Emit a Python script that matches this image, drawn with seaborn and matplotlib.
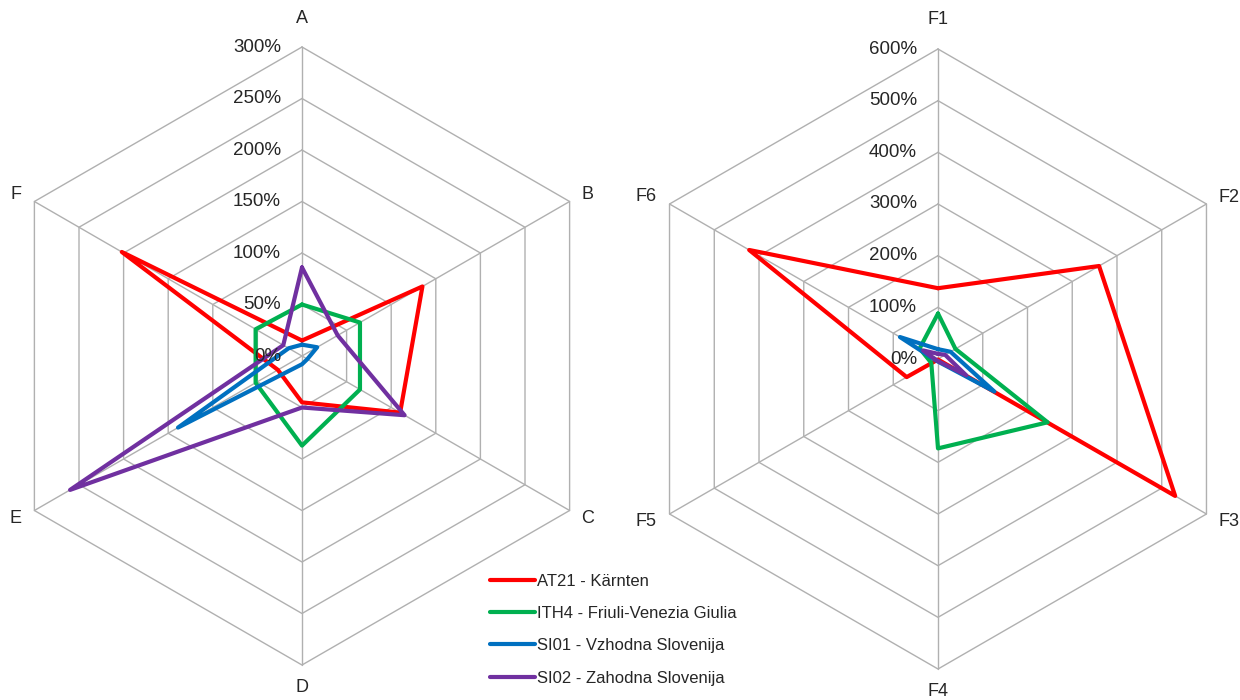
import numpy as np
import pandas as pd
import matplotlib
matplotlib.use("Agg")
import matplotlib.pyplot as plt
import seaborn as sns

sns.set_style("white")
plt.rcParams['font.family'] = ['Liberation Sans', 'DejaVu Sans']

# ---------------- data ----------------
series = ["AT21 - Kärnten", "ITH4 - Friuli-Venezia Giulia",
          "SI01 - Vzhodna Slovenija", "SI02 - Zahodna Slovenija"]
colors = ["#FF0000", "#00B050", "#0070C0", "#7030A0"]

cats_left = ["A", "B", "C", "D", "E", "F"]
at21_left = [15, 135, 110, 45, 27, 202]
ith4_left = [50, 65, 65, 87, 52, 52]
si01_left = [11, 17, 6, 8, 139, 15]
si02_left = [86, 40, 115, 50, 260, 21]
ticks_left = [0, 50, 100, 150, 200, 250, 300]

cats_right = ["F1", "F2", "F3", "F4", "F5", "F6"]
at21_right = [137, 360, 530, 1, 70, 422]
ith4_right = [88, 39, 245, 173, 15, 41]
si01_right = [19, 28, 126, 5, 5, 85]
si02_right = [10, 16, 63, 4, 4, 33]
ticks_right = [0, 100, 200, 300, 400, 500, 600]

GRID = "#B0B0B0"
TXT = "#262626"


def build_df(cats, values_list):
    n = len(cats)
    ang = np.deg2rad(90 - 360 / n * np.arange(n))
    rows = []
    for name, vals in zip(series, values_list):
        v = np.array(vals, dtype=float)
        idx = list(range(n)) + [0]
        for k, i in enumerate(idx):
            rows.append({"series": name, "order": k,
                         "x": v[i] * np.cos(ang[i]), "y": v[i] * np.sin(ang[i])})
    return pd.DataFrame(rows), ang


def draw_radar(ax, cats, values_list, ticks, offsets):
    df, ang = build_df(cats, values_list)
    rmax = ticks[-1]
    # hexagonal grid
    for t in ticks[1:]:
        gx = np.append(t * np.cos(ang), t * np.cos(ang[0]))
        gy = np.append(t * np.sin(ang), t * np.sin(ang[0]))
        ax.plot(gx, gy, color=GRID, lw=1.0, zorder=1)
    for a in ang:
        ax.plot([0, rmax * np.cos(a)], [0, rmax * np.sin(a)], color=GRID, lw=1.0, zorder=1)
    # data lines
    sns.lineplot(data=df, x="x", y="y", hue="series", hue_order=series,
                 palette=colors, sort=False, estimator=None, lw=3.0,
                 ax=ax, legend=True, zorder=3)
    for ln in ax.get_lines():
        ln.set_solid_joinstyle("round")
        ln.set_solid_capstyle("round")
    # radial tick labels
    for t in ticks:
        ax.annotate(f"{t}%", xy=(0, t), xytext=(-21, 0), textcoords="offset pixels",
                    ha="right", va="center", fontsize=13.5, color=TXT, zorder=5)
    # category labels
    for c, a, (dx, dy, ha) in zip(cats, ang, offsets):
        ax.annotate(c, xy=(rmax * np.cos(a), rmax * np.sin(a)), xytext=(dx, dy),
                    textcoords="offset pixels", ha=ha, va="center",
                    fontsize=13, color=TXT, zorder=5)
    ax.set_axis_off()


fig = plt.figure(figsize=(12.4, 7), dpi=100)
ax1 = fig.add_axes([0, 0, 604 / 1240, 1])
ax2 = fig.add_axes([636 / 1240, 0, 604 / 1240, 1])

offs = [(0, 29, "center"), (12, 7, "left"), (12, -8, "left"),
        (0, -22, "center"), (-13, -8, "right"), (-13, 7, "right")]

draw_radar(ax1, cats_left, [at21_left, ith4_left, si01_left, si02_left], ticks_left, offs)
draw_radar(ax2, cats_right, [at21_right, ith4_right, si01_right, si02_right], ticks_right, offs)

s1 = 309 / 300
ax1.set_xlim(-302 / s1, 302 / s1)
ax1.set_ylim(-344 / s1, 356 / s1)
s2 = 310 / 600
ax2.set_xlim(-302 / s2, 302 / s2)
ax2.set_ylim(-341 / s2, 359 / s2)

handles, labels = ax1.get_legend_handles_labels()
for ax in (ax1, ax2):
    if ax.get_legend() is not None:
        ax.get_legend().remove()
leg = fig.legend(handles, labels, loc="upper left", bbox_to_anchor=(490 / 1240, 1 - 574 / 700),
                 frameon=False, fontsize=12, handlelength=2.7, handletextpad=0.1,
                 labelspacing=1.03, borderpad=0, borderaxespad=0)
for t in leg.get_texts():
    t.set_color(TXT)
for h in leg.get_lines():
    h.set_linewidth(3.0)

fig.savefig("out.png", dpi=100)
